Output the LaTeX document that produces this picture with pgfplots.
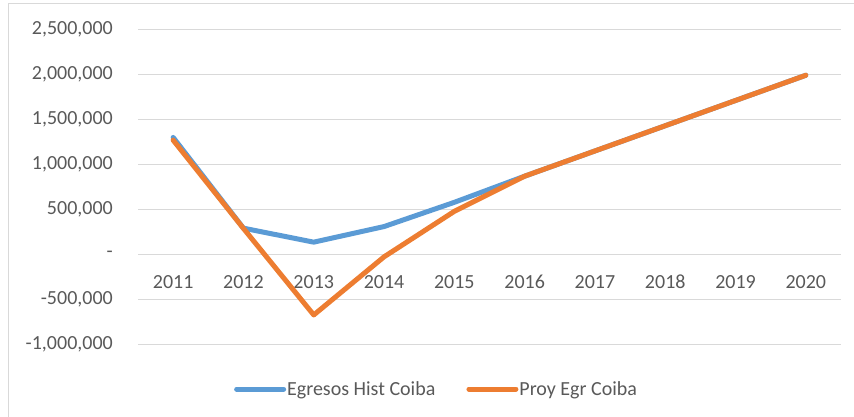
\documentclass[border=0pt]{standalone}
\usepackage{fontspec}
\setmainfont{Carlito}
\usepackage{pgfplots}
\pgfplotsset{compat=1.18}
\definecolor{xlblue}{HTML}{5B9BD5}
\definecolor{xlorange}{HTML}{ED7D31}
\definecolor{xlgrid}{HTML}{D9D9D9}
\definecolor{xltext}{HTML}{595959}
\begin{document}
\begin{tikzpicture}
\useasboundingbox (0,0) rectangle (854bp,417bp);
\draw[xlgrid, line width=1bp] (8bp,0bp) -- (8bp,413bp) -- (854bp,413bp);
\begin{axis}[
  at={(138bp,72.3bp)}, anchor=south west,
  scale only axis, width=703bp, height=315.4bp,
  xmin=-0.5, xmax=9.5, ymin=-1000000, ymax=2500000,
  scaled y ticks=false,
  axis line style={draw=none},
  ymajorgrids, grid style={xlgrid, line width=1bp},
  major tick length=0pt,
  xtick={0,1,2,3,4,5,6,7,8,9},
  xticklabels={2011,2012,2013,2014,2015,2016,2017,2018,2019,2020},
  ytick={-1000000,-500000,0,500000,1000000,1500000,2000000,2500000},
  yticklabels={{-1,000,000},{-500,000},{-},{500,000},{1,000,000},{1,500,000},{2,000,000},{2,500,000}},
  tick label style={font=\fontsize{20bp}{24bp}\selectfont, text=xltext, inner sep=0pt},
  xticklabel style={anchor=center, yshift=62.7bp},
  yticklabel style={anchor=east, xshift=-25bp},
  legend columns=2,
  legend style={at={(0.4240,-0.1405)}, anchor=center, draw=none, fill=none,
    font=\fontsize{20bp}{24bp}\selectfont, text=xltext, inner sep=0pt,
    /tikz/every even column/.append style={column sep=30bp},
    nodes={inner sep=1bp}},
  legend image code/.code={\draw[#1, line cap=round] (0bp,0bp) -- (47bp,0bp);},
  every axis plot/.append style={line width=5bp, line join=round, line cap=round},
]
\addplot[xlblue] coordinates {(0,1300000) (1,293000) (2,138000) (3,311000) (4,580000) (5,870000) (6,1150000) (7,1430000) (8,1710000) (9,1990000)};
\addlegendentry{Egresos Hist Coiba}
\addplot[xlorange] coordinates {(0,1270000) (1,290000) (2,-670000) (3,-25000) (4,480000) (5,870000) (6,1150000) (7,1430000) (8,1710000) (9,1990000)};
\addlegendentry{Proy Egr Coiba}
\end{axis}
\end{tikzpicture}
\end{document}
